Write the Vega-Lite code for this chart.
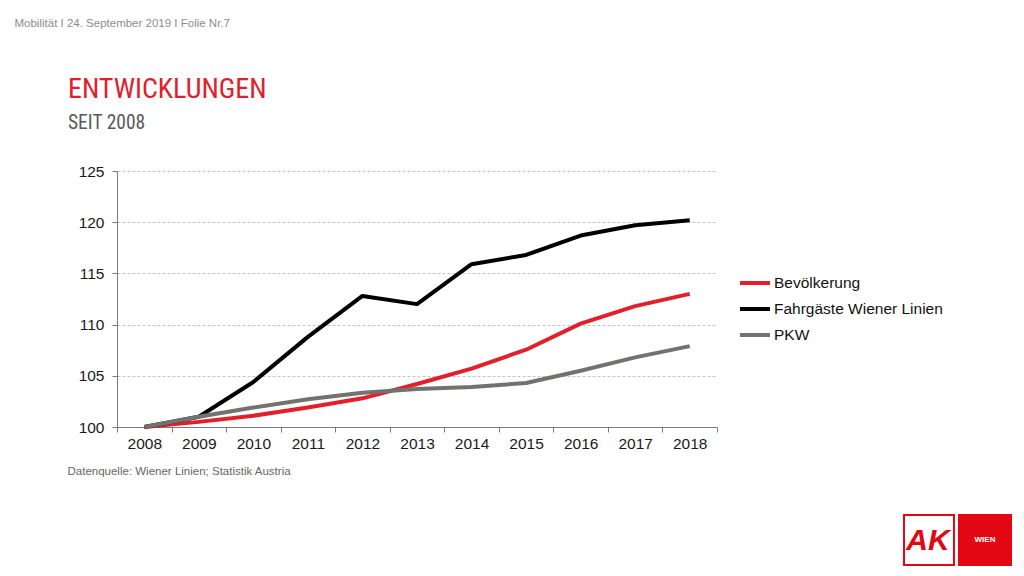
{
  "$schema": "https://vega.github.io/schema/vega-lite/v6.json",
  "width": 600,
  "height": 256,
  "autosize": {"type": "none"},
  "padding": {"left": 117, "top": 171, "right": 307, "bottom": 149},
  "background": "white",
  "config": {
    "view": {"stroke": null},
    "font": "Liberation Sans"
  },
  "title": {
    "text": "ENTWICKLUNGEN",
    "subtitle": "SEIT 2008",
    "anchor": "start",
    "frame": "group",
    "dx": -49,
    "offset": -115,
    "font": "'Liberation Sans Narrow', 'Roboto Condensed', 'DejaVu Sans Condensed', 'Liberation Sans'",
    "fontSize": 28,
    "fontWeight": "normal",
    "color": "#e2202c",
    "subtitleFont": "'Liberation Sans Narrow', 'Roboto Condensed', 'DejaVu Sans Condensed', 'Liberation Sans'",
    "subtitleFontSize": 19.5,
    "subtitleColor": "#595959",
    "subtitlePadding": 10
  },
  "data": {
    "values": [
      {"year": "2008", "series": "Bevölkerung", "value": 100},
      {"year": "2009", "series": "Bevölkerung", "value": 100.5},
      {"year": "2010", "series": "Bevölkerung", "value": 101.1},
      {"year": "2011", "series": "Bevölkerung", "value": 101.9},
      {"year": "2012", "series": "Bevölkerung", "value": 102.8},
      {"year": "2013", "series": "Bevölkerung", "value": 104.2},
      {"year": "2014", "series": "Bevölkerung", "value": 105.7},
      {"year": "2015", "series": "Bevölkerung", "value": 107.55},
      {"year": "2016", "series": "Bevölkerung", "value": 110.1},
      {"year": "2017", "series": "Bevölkerung", "value": 111.8},
      {"year": "2018", "series": "Bevölkerung", "value": 113.0},
      {"year": "2008", "series": "Fahrgäste Wiener Linien", "value": 100},
      {"year": "2009", "series": "Fahrgäste Wiener Linien", "value": 101.0},
      {"year": "2010", "series": "Fahrgäste Wiener Linien", "value": 104.4},
      {"year": "2011", "series": "Fahrgäste Wiener Linien", "value": 108.8},
      {"year": "2012", "series": "Fahrgäste Wiener Linien", "value": 112.8},
      {"year": "2013", "series": "Fahrgäste Wiener Linien", "value": 112.0},
      {"year": "2014", "series": "Fahrgäste Wiener Linien", "value": 115.9},
      {"year": "2015", "series": "Fahrgäste Wiener Linien", "value": 116.8},
      {"year": "2016", "series": "Fahrgäste Wiener Linien", "value": 118.7},
      {"year": "2017", "series": "Fahrgäste Wiener Linien", "value": 119.7},
      {"year": "2018", "series": "Fahrgäste Wiener Linien", "value": 120.2},
      {"year": "2008", "series": "PKW", "value": 100},
      {"year": "2009", "series": "PKW", "value": 101.0},
      {"year": "2010", "series": "PKW", "value": 101.9},
      {"year": "2011", "series": "PKW", "value": 102.7},
      {"year": "2012", "series": "PKW", "value": 103.35},
      {"year": "2013", "series": "PKW", "value": 103.7},
      {"year": "2014", "series": "PKW", "value": 103.9},
      {"year": "2015", "series": "PKW", "value": 104.3},
      {"year": "2016", "series": "PKW", "value": 105.5},
      {"year": "2017", "series": "PKW", "value": 106.8},
      {"year": "2018", "series": "PKW", "value": 107.9}
    ]
  },
  "layer": [
    {
      "mark": {"type": "line", "strokeWidth": 4, "strokeJoin": "round", "strokeCap": "butt"},
      "encoding": {
        "x": {
          "field": "year",
          "type": "ordinal",
          "scale": {"type": "band", "paddingInner": 0, "paddingOuter": 0},
          "axis": {
            "title": "Datenquelle: Wiener Linien; Statistik Austria",
            "titleFont": "Liberation Sans",
            "titleFontSize": 11.5,
            "titleFontWeight": "normal",
            "titleColor": "#666666",
            "titleAlign": "left",
            "titleBaseline": "alphabetic",
            "titleX": -50,
            "titleY": 47,
            "labelAngle": 0,
            "labelFont": "Liberation Sans",
            "labelFontSize": 15.5,
            "labelColor": "#1a1a1a",
            "labelPadding": 4,
            "tickBand": "extent",
            "tickSize": 5,
            "tickColor": "#7a7a7a",
            "domainColor": "#7a7a7a",
            "grid": false
          }
        },
        "y": {
          "field": "value",
          "type": "quantitative",
          "scale": {"domain": [100, 125], "nice": false, "zero": false},
          "axis": {
            "values": [100, 105, 110, 115, 120, 125],
            "title": "Mobilität I 24. September 2019 I Folie Nr.7",
            "titleAngle": 0,
            "titleAlign": "left",
            "titleBaseline": "alphabetic",
            "titleX": -103,
            "titleY": -145,
            "titleFont": "Liberation Sans",
            "titleFontSize": 11.5,
            "titleFontWeight": "normal",
            "titleColor": "#8c8c8c",
            "labelFont": "Liberation Sans",
            "labelFontSize": 15.5,
            "labelColor": "#1a1a1a",
            "labelPadding": 8,
            "tickSize": 5,
            "tickColor": "#7a7a7a",
            "domainColor": "#7a7a7a",
            "grid": true,
            "gridColor": "#c4c4c4",
            "gridDash": [3, 2],
            "gridWidth": 1
          }
        },
        "color": {
          "field": "series",
          "type": "nominal",
          "scale": {
            "domain": ["Bevölkerung", "Fahrgäste Wiener Linien", "PKW"],
            "range": ["#e2202c", "#000000", "#727270"]
          },
          "legend": {
            "title": null,
            "orient": "none",
            "legendX": 621,
            "legendY": 95,
            "symbolType": "stroke",
            "symbolSize": 900,
            "symbolStrokeWidth": 4,
            "labelFont": "Liberation Sans",
            "labelFontSize": 15.5,
            "labelColor": "#111111",
            "labelOffset": 2,
            "labelLimit": 400,
            "rowPadding": 0
          }
        }
      }
    },
    {
      "data": {"values": [{"k": 1}]},
      "mark": {"type": "rect", "fill": "white", "stroke": "#e30613", "strokeWidth": 2},
      "encoding": {"x": {"value": 787}, "x2": {"value": 837}, "y": {"value": 344}, "y2": {"value": 394}}
    },
    {
      "data": {"values": [{"k": 1}]},
      "mark": {"type": "rect", "fill": "#e30613"},
      "encoding": {"x": {"value": 841}, "x2": {"value": 895}, "y": {"value": 343}, "y2": {"value": 395}}
    },
    {
      "data": {"values": [{"t": "AK"}]},
      "mark": {"type": "text", "font": "Liberation Sans", "fontSize": 30, "fontWeight": "bold", "fontStyle": "italic", "color": "#e30613", "align": "center", "baseline": "middle"},
      "encoding": {"text": {"field": "t"}, "x": {"value": 811}, "y": {"value": 370}}
    },
    {
      "data": {"values": [{"t": "WIEN"}]},
      "mark": {"type": "text", "font": "Liberation Sans", "fontSize": 8, "fontWeight": "bold", "color": "white", "align": "center", "baseline": "middle"},
      "encoding": {"text": {"field": "t"}, "x": {"value": 868}, "y": {"value": 369}}
    }
  ]
}
